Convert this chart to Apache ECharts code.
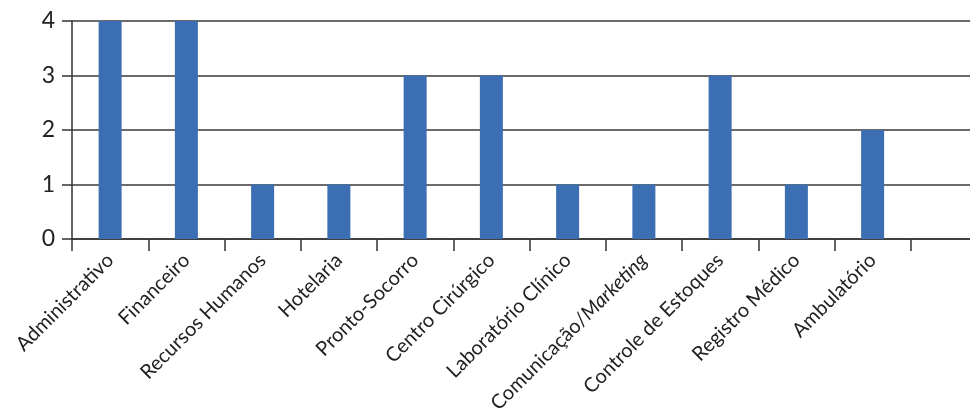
<!DOCTYPE html>
<html>
<head>
<meta charset="utf-8">
<script src="https://cdn.jsdelivr.net/npm/echarts@6/dist/echarts.min.js"></script>
<style>html,body{margin:0;padding:0;background:#fff;}#c{width:970px;height:412px;}</style>
</head>
<body>
<div id="c"></div>
<script>
const categories = ['Administrativo','Financeiro','Recursos Humanos','Hotelaria','Pronto-Socorro','Centro Cirúrgico','Laboratório Clínico','Comunicação/Marketing','Controle de Estoques','Registro Médico','Ambulatório'];
const values = [4,4,1,1,3,3,1,1,3,1,2];
const yTicks = [0,1,2,3,4];

const chart = echarts.init(document.getElementById('c'), null, {renderer:'canvas'});
const font = 'Lato, "Open Sans", sans-serif';
chart.setOption({
  animation:false,
  grid:{left:72, width:915, top:21, bottom:173, containLabel:false, outerBoundsMode:'none'},
  xAxis:{
    type:'category',
    data: categories.concat(['']),
    boundaryGap:true,
    axisLine:{show:true, lineStyle:{color:'#333', width:1.5}},
    axisTick:{show:true, inside:false, length:12, alignWithLabel:false, lineStyle:{color:'#333', width:1.5}},
    axisLabel:{
      rotate:45, interval:0, margin:18, color:'#222', fontFamily:font, fontSize:20,
      formatter:function(v){
        if(v.indexOf('/Marketing')>=0){ return '{n|Comunicação/}{i|Marketing}'; }
        return '{n|'+v+'}';
      },
      rich:{
        n:{fontFamily:font, fontSize:20, color:'#222'},
        i:{fontFamily:font, fontSize:20, color:'#222', fontStyle:'italic'}
      }
    },
    splitLine:{show:false}
  },
  yAxis:{
    type:'value', min:yTicks[0], max:yTicks[yTicks.length-1], interval:1,
    axisLine:{show:true, lineStyle:{color:'#333', width:1.5}},
    axisTick:{show:true, inside:false, length:10, lineStyle:{color:'#333', width:1.5}},
    axisLabel:{margin:17, color:'#222', fontFamily:font, fontSize:23},
    splitLine:{show:true, lineStyle:{color:'#3a3a3a', width:1.5}}
  },
  series:[{
    type:'bar', data:values, barWidth:23,
    itemStyle:{color:'#3B6EB2'}
  }]
});
</script>
</body>
</html>
